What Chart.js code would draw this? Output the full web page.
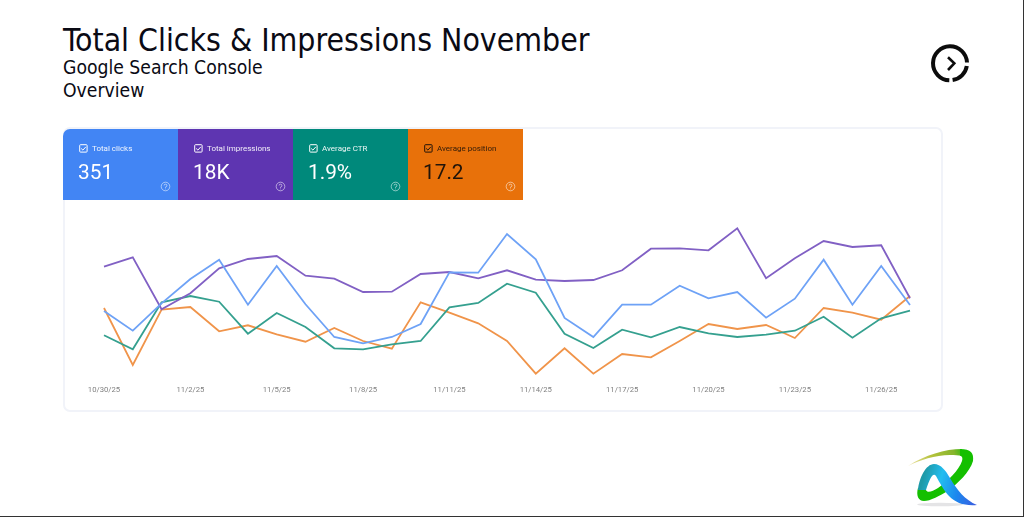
<!DOCTYPE html>
<html><head><meta charset="utf-8">
<script src="https://cdn.jsdelivr.net/npm/chart.js@4"></script>
<style>
html,body{margin:0;padding:0;background:#fff;overflow:hidden}
#page{position:relative;width:1024px;height:517px;overflow:hidden;background:#fff}
#edgeR{position:absolute;left:1023px;top:0;width:1px;height:517px;background:#333}
#edgeB{position:absolute;left:0;top:516px;width:1024px;height:1px;background:#333}
.t{position:absolute;left:63px;white-space:nowrap;color:#0a0a14;font-family:"DejaVu Sans Condensed","DejaVu Sans",sans-serif}
#title{top:21px;font-size:31.7px;line-height:38px}
#sub1{top:56px;font-size:19.2px;line-height:24px}
#sub2{top:79px;font-size:19.2px;line-height:24px}
#card{position:absolute;left:63px;top:127px;width:876px;height:281px;background:#fff;border:2px solid #f1f3f9;border-radius:7px;box-sizing:content-box}
#tiles{position:absolute;left:63px;top:129px;height:71px;display:flex;filter:blur(.4px)}
.tile{position:relative;width:115px;height:71px;font-family:Roboto,sans-serif;color:#fff;overflow:hidden}
.tile:first-child{border-top-left-radius:7px}
.tile .lb{position:absolute;left:29px;top:15px;font-size:8px;line-height:10px;white-space:nowrap;opacity:.92}
.tile .val{position:absolute;left:15px;top:31px;font-size:20.8px;line-height:24px;white-space:nowrap}
.tile svg{position:absolute}
.tile .cb{left:15.5px;top:15px}
.tile .q{left:97px;top:52px}
#wrap{position:absolute;left:0;top:215px;width:1024px;height:185px;filter:blur(.35px)}
#icon{position:absolute;left:925px;top:38px}
#logo{position:absolute;left:900px;top:440px;filter:blur(.4px)}
</style></head>
<body><div id="page">
<div class="t" id="title"></div>
<div class="t" id="sub1"></div>
<div class="t" id="sub2"></div>
<svg id="icon" width="50" height="50" viewBox="925 38 50 50" fill="none" stroke="#0c0c0c">
<path d="M967 62.5 A17 17 0 1 0 949.3 80.3" stroke-width="4"/>
<path d="M952.6 80.1 A17 17 0 0 0 966.8 66" stroke-width="4"/>
<path d="M948 57.3 L954.3 63.3 L948 70" stroke-width="2.6"/>
</svg>
<div id="card"></div>
<div id="tiles"></div>
<div id="wrap"><canvas id="c"></canvas></div>
<svg id="logo" width="85" height="72" viewBox="900 440 85 72">
<defs>
<linearGradient id="g1" x1="908" y1="466" x2="962" y2="450" gradientUnits="userSpaceOnUse"><stop offset="0" stop-color="#efe3a8"/><stop offset=".45" stop-color="#b5c23c"/><stop offset=".85" stop-color="#86b52c"/><stop offset="1" stop-color="#3cba14"/></linearGradient>
<linearGradient id="g2" x1="920" y1="490" x2="975" y2="505" gradientUnits="userSpaceOnUse"><stop offset="0" stop-color="#1e9aa8"/><stop offset=".3" stop-color="#22bdf0"/><stop offset=".65" stop-color="#1c86ee"/><stop offset="1" stop-color="#3a5fe0"/></linearGradient>
</defs>
<ellipse cx="940" cy="504.5" rx="23" ry="1.8" fill="#e4e4e6"/>
<path d="M908 466 C925 455 945 449 962 449 L962 456 C958 455 955 455 950 455 C935 455 920 460 908 466 Z" fill="url(#g1)"/>
<path d="M960 449 C971 449 974 453 973 461 C970 472 957 484 949 490 C940 496 930 501 924 501 C918 501 916 495 918 488 L926 490 C927 493 932 492 938 488 C948 481 959 470 962 461 C963 458 962 456 960 455.5 Z" fill="#14bf00"/>
<path d="M918 490 C919 478 926 464 934 464 C941 464 946 471 950 478 C957 490 965 500 977 505 C964 506 956 503 949 496 C944 491 940 483 936 476 C933 472 930 478 926 490 Z" fill="url(#g2)"/>
</svg>
<div id="edgeR"></div><div id="edgeB"></div>
</div>
<script>
const titleText = "Total Clicks & Impressions November";
const subtitleLines = ["Google Search Console", "Overview"];
const metricNames = ["Total clicks", "Total impressions", "Average CTR", "Average position"];
const metricValues = ["351", "18K", "1.9%", "17.2"];
const tileColors = ["#4285f4", "#5e35b1", "#00897b", "#e8710a"];
const tileInk = ["#ffffff", "#ffffff", "#ffffff", "#20140a"];
const dates = ["10/30/25","10/31/25","11/1/25","11/2/25","11/3/25","11/4/25","11/5/25","11/6/25","11/7/25","11/8/25","11/9/25","11/10/25","11/11/25","11/12/25","11/13/25","11/14/25","11/15/25","11/16/25","11/17/25","11/18/25","11/19/25","11/20/25","11/21/25","11/22/25","11/23/25","11/24/25","11/25/25","11/26/25","11/27/25"];
const clicks = [69,49.3,76.7,101,120.3,75.3,114,75.7,43,36.7,43,56,107.7,107.3,146,120.7,62,43,75.3,75.3,94.3,81.7,88,62.3,81.3,120.3,75.3,114,75];
const impressions = [113.3,122.7,70.7,86.7,111.7,121,124,104.3,101.3,88,88.3,106,108,101.7,109.7,100.3,99,100,109.7,131.3,131.7,129.7,151.7,101.7,121.7,139,133,134.7,81.7];
const ctr = [44.7,30.7,77.7,84,78.3,46.3,67,53,31.7,30.7,35.7,39,72.7,77,96.3,87.3,46.3,32,50.3,42.7,53,46.7,43,45.3,49.3,63.3,42.3,61.7,69.3];
const position = [72,15,70.3,73,48.7,54.7,45.7,38.3,52,39,31.3,77.7,67.3,56.7,39,6.3,31.7,6.3,26,22.7,39,56,51,55,42,72,67.3,60.3,84];
const lineColors = ["#6ea2f6", "#8160c4", "#35a08f", "#f0944a"];

document.getElementById("title").textContent = titleText;
document.getElementById("sub1").textContent = subtitleLines[0];
document.getElementById("sub2").textContent = subtitleLines[1];
const tiles = document.getElementById("tiles");
metricNames.forEach((n, i) => {
  const d = document.createElement("div");
  d.className = "tile";
  d.style.background = tileColors[i];
  d.style.color = tileInk[i];
  const ink = tileInk[i];
  d.innerHTML =
    '<svg class="cb" width="9" height="9" viewBox="0 0 9 9" fill="none" stroke="'+ink+'" stroke-width="1"><rect x=".7" y=".7" width="7.4" height="7.4" rx=".8"/><path d="M2.2 4.5 L3.9 6.1 L6.8 2.9"/></svg>' +
    '<div class="lb"></div><div class="val"></div>' +
    '<svg class="q" width="11" height="11" viewBox="0 0 11 11" fill="none" stroke="#ffffff" stroke-opacity=".6" stroke-width=".9"><circle cx="5.5" cy="5.5" r="4.3"/><path d="M4.1 4.5 A1.4 1.4 0 1 1 5.5 6 V6.7 M5.5 7.6 V8.3"/></svg>';
  d.querySelector(".lb").textContent = n;
  d.querySelector(".val").textContent = metricValues[i];
  tiles.appendChild(d);
});

const series = [clicks, impressions, ctr, position];
new Chart(document.getElementById("c"), {
  type: "line",
  data: {
    labels: dates,
    datasets: series.map((s, i) => ({
      label: metricNames[i], data: s, borderColor: lineColors[i], borderWidth: 1.8,
      pointRadius: 0, tension: 0, fill: false
    }))
  },
  options: {
    responsive: true, maintainAspectRatio: false, animation: false, devicePixelRatio: 1,
    layout: { padding: { left: 104, right: 114, top: 5, bottom: 0 } },
    plugins: { legend: { display: false }, tooltip: { enabled: false } },
    scales: {
      y: { display: false, min: 0, max: 160 },
      x: {
        offset: false,
        grid: { display: false, drawTicks: false },
        border: { display: false },
        afterFit: s => { s.height = 20; },
        ticks: {
          autoSkip: false, maxRotation: 0, minRotation: 0, padding: 5, color: "#808080",
          font: { family: "Roboto", size: 7.7 },
          callback: (v, i) => i % 3 === 0 ? dates[i] : ""
        }
      }
    }
  }
});
</script>
</body></html>
